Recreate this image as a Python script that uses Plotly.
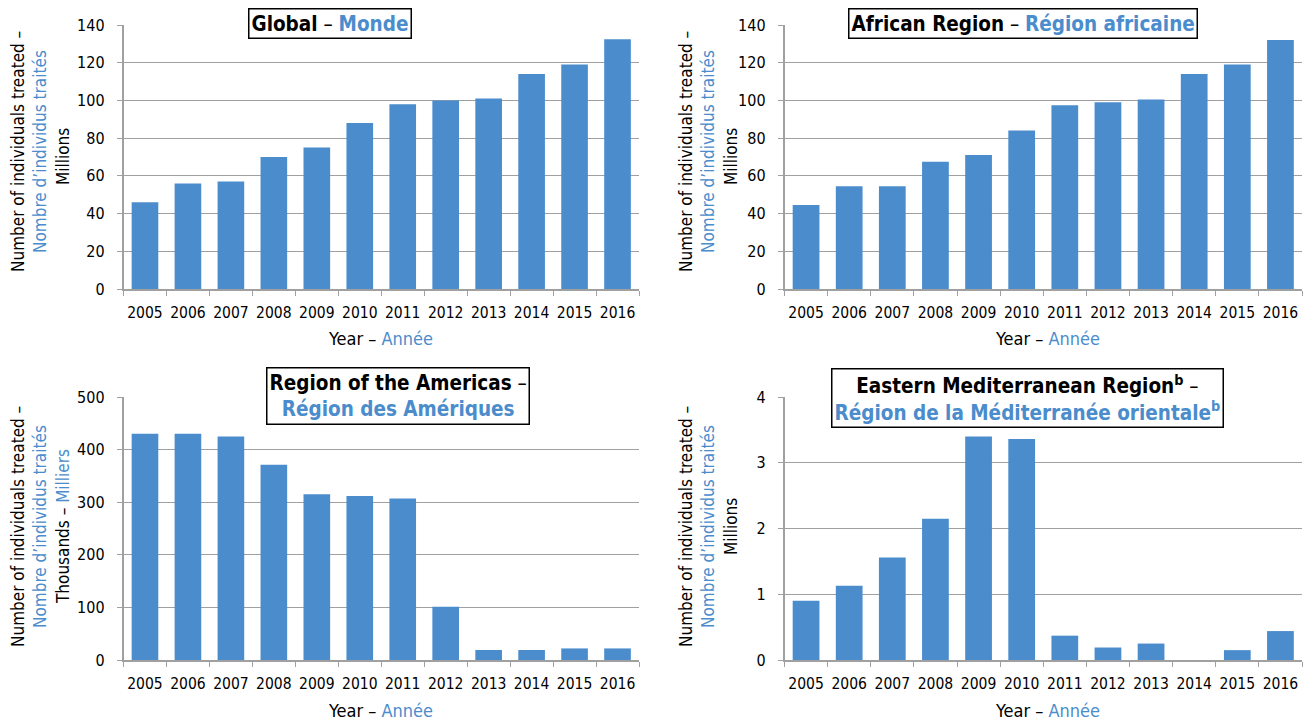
import plotly.graph_objects as go

years = ["2005", "2006", "2007", "2008", "2009", "2010", "2011", "2012", "2013", "2014", "2015", "2016"]
global_vals = [46, 56, 57, 70, 75, 88, 98, 100, 101, 114, 119, 132.5]
african_vals = [44.5, 54.5, 54.5, 67.5, 71, 84, 97.5, 99, 100.5, 114, 119, 132]
americas_vals = [430, 430, 425, 371, 315, 312, 307, 101, 19, 19, 22, 22]
emr_vals = [0.9, 1.13, 1.56, 2.15, 3.4, 3.36, 0.37, 0.19, 0.25, 0, 0.15, 0.44]

BLUE = "#4a8ccc"
GRID = "#a0a0a0"
FONT = "DejaVu Sans Condensed, Roboto, sans-serif"
W, H = 1309, 722

fig = go.Figure()

panels = [
    (global_vals, (123.5, 639), (25, 289), [0, 140], 20),
    (african_vals, (784.5, 1302), (25, 289), [0, 140], 20),
    (americas_vals, (123.5, 639), (397, 660), [0, 500], 100),
    (emr_vals, (784.5, 1302), (397, 660), [0, 4], 1),
]

for i, (vals, xd, yd, rng, dt) in enumerate(panels):
    sx = "" if i == 0 else str(i + 1)
    fig.add_trace(go.Bar(x=years, y=vals, xaxis="x" + sx, yaxis="y" + sx,
                         marker=dict(color=BLUE, line=dict(width=0)),
                         showlegend=False, hoverinfo="x+y"))
    fig.layout["xaxis" + sx] = dict(
        domain=[xd[0] / W, xd[1] / W], anchor="y" + sx,
        type="category", showline=True, linecolor=GRID, linewidth=1.5,
        ticks="outside", tickson="boundaries", ticklen=5, tickcolor=GRID,
        tickangle=0, automargin=False, ticklabelstandoff=9,
        tickfont=dict(size=15.5, color="black", family=FONT),
        showgrid=False,
    )
    fig.layout["yaxis" + sx] = dict(
        domain=[1 - yd[1] / H, 1 - yd[0] / H], anchor="x" + sx,
        range=rng, dtick=dt, showline=True, linecolor=GRID, linewidth=1.5,
        ticks="outside", ticklen=5, tickcolor=GRID, automargin=False,
        ticklabelstandoff=9,
        tickfont=dict(size=16, color="black", family=FONT),
        showgrid=True, gridcolor=GRID, gridwidth=1.3, zeroline=False,
    )

fig.update_layout(bargap=0.38)

ann = []

def title_box(text, xc, yc):
    ann.append(dict(text=text, x=xc / W, y=1 - yc / H, xref="paper", yref="paper",
                    showarrow=False, xanchor="center", yanchor="middle",
                    bgcolor="white", bordercolor="black", borderwidth=1.5, borderpad=2,
                    font=dict(size=20.5, family=FONT, color="black"), align="center"))

title_box("<b>Global</b> – <b><span style='color:%s'>Monde</span></b>" % BLUE, 330, 23)
title_box("<b>African Region</b> – <b><span style='color:%s'>Région africaine</span></b>" % BLUE, 1023, 23)
title_box("<b>Region of the Americas</b> –<br><b><span style='color:%s'>Région des Amériques</span></b>" % BLUE, 398, 396)
title_box("<b>Eastern Mediterranean Region<sup>b</sup></b> –<br><b><span style='color:%s'>Région de la Méditerranée orientale<sup>b</sup></span></b>" % BLUE, 1027, 398)

def vtext(text, xc, yc, color="black"):
    ann.append(dict(text=text, x=xc / W, y=1 - yc / H, xref="paper", yref="paper",
                    showarrow=False, xanchor="center", yanchor="middle", textangle=-90,
                    font=dict(size=17, family=FONT, color=color)))

def htext(text, xc, yc):
    ann.append(dict(text=text, x=xc / W, y=1 - yc / H, xref="paper", yref="paper",
                    showarrow=False, xanchor="center", yanchor="middle",
                    font=dict(size=18, family=FONT, color="black")))

for (x0, yc, third, yc3) in [(0, 152, "Millions", 157), (668, 152, "Millions", 157),
                             (0, 527, "Thousands – <span style='color:%s'>Milliers</span>" % BLUE, 527),
                             (668, 527, "Millions", 527)]:
    vtext("Number of individuals treated –", x0 + 18, yc)
    vtext("Nombre d’individus traités", x0 + 40, yc, BLUE)
    vtext(third, x0 + 63, yc3)

yr = "Year – <span style='color:%s'>Année</span>" % BLUE
htext(yr, 380, 338)
htext(yr, 1047, 338)
htext(yr, 380, 710)
htext(yr, 1047, 710)

fig.update_layout(annotations=ann, width=W, height=H,
                  margin=dict(l=0, r=0, t=0, b=0),
                  plot_bgcolor="white", paper_bgcolor="white",
                  font=dict(family=FONT))

fig.write_html("out.html", config={"displayModeBar": False},
               post_script="document.body.style.margin='0';document.body.style.overflow='hidden';")
